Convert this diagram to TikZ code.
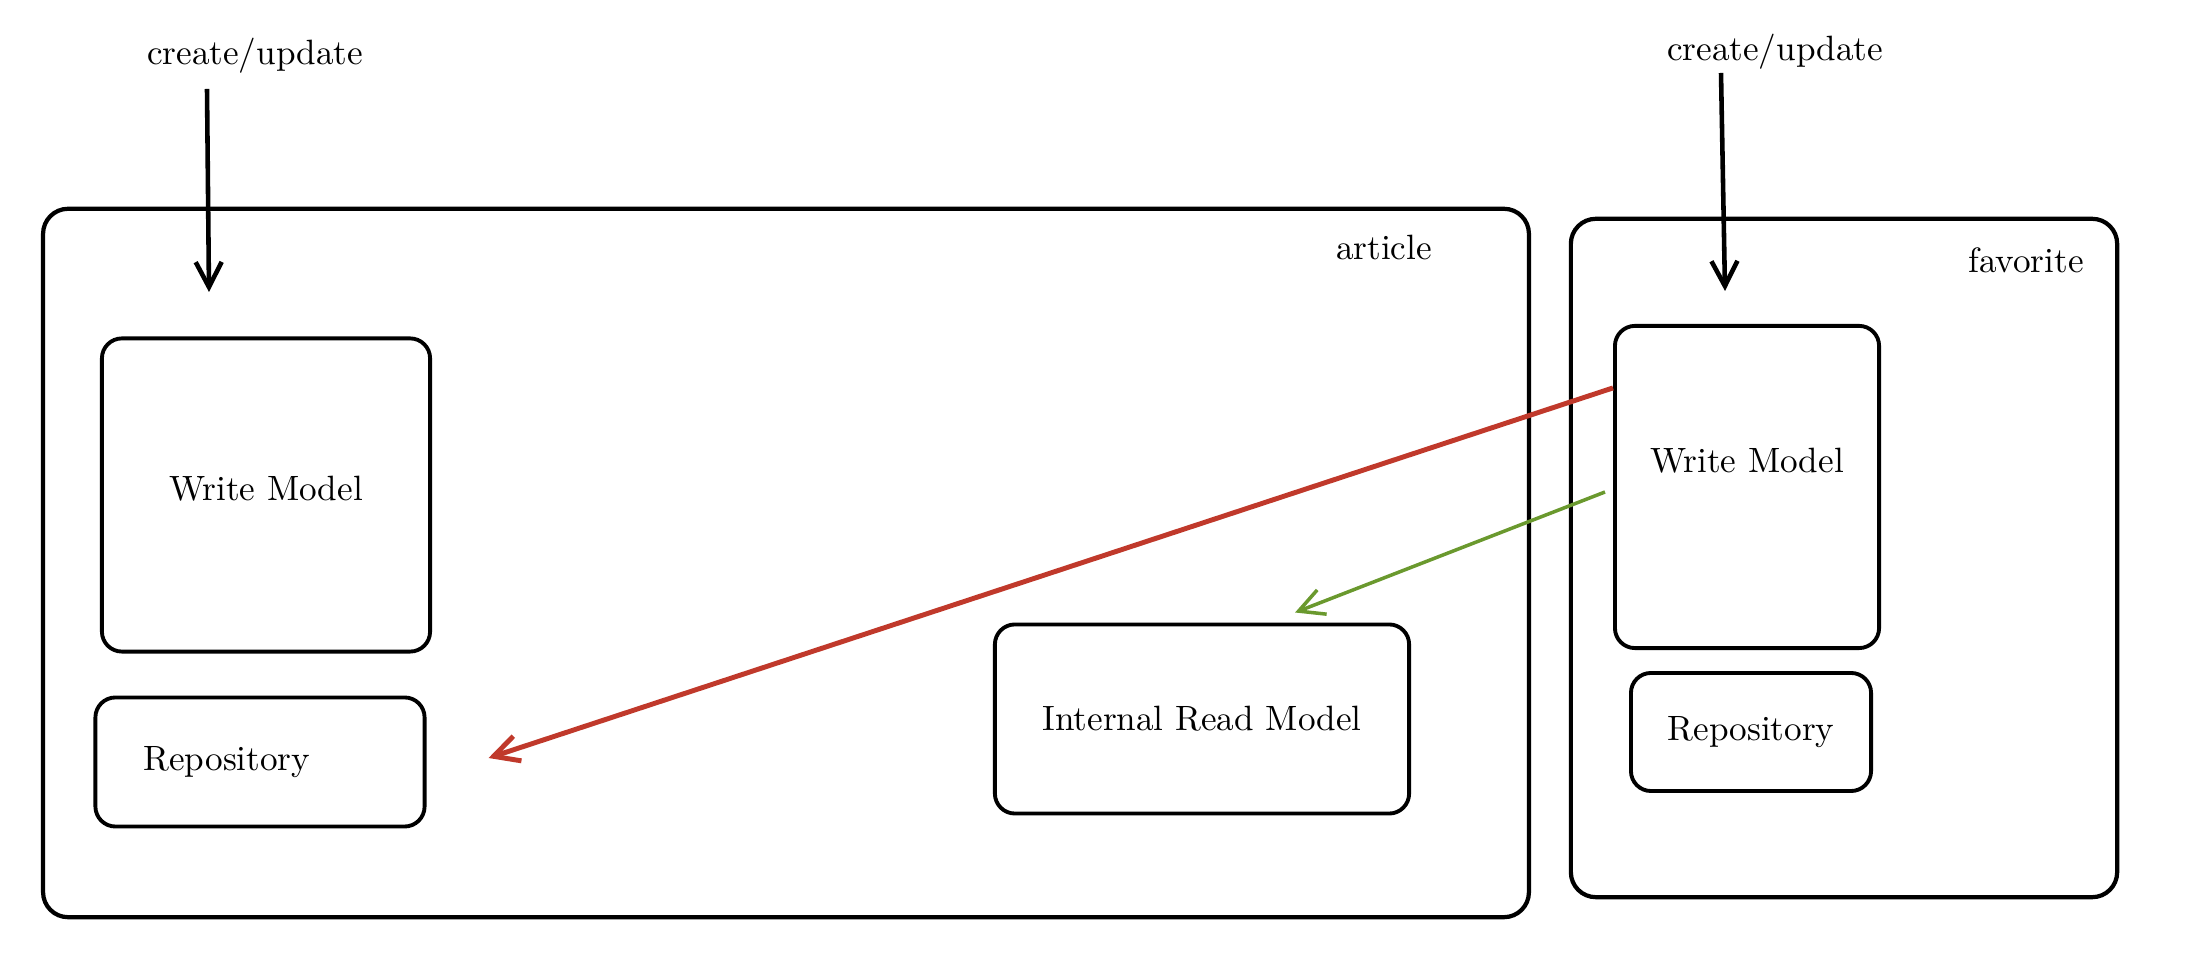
\documentclass[tikz,border=0pt]{standalone}
\usetikzlibrary{arrows.meta}
\definecolor{wred}{RGB}{192,57,43}
\definecolor{wgreen}{RGB}{106,153,46}
\tikzset{
    box/.style={draw, line width=1.1pt, rounded corners=2mm},
    ctx/.style={draw, line width=1.2pt, rounded corners=2.5mm}
}
\begin{document}
\begin{tikzpicture}[x=.01cm, y=-.01cm, >={Straight Barb[length=2.5mm,width=2.6mm]}]
\useasboundingbox (0,0) rectangle (2212,968);
\node[ctx, minimum width=14.85cm, minimum height=7.08cm](article) at (786,563){};
\node[ctx, minimum width=5.46cm, minimum height=6.78cm](favorite) at (1844,558){};
\node(artlbl) at (1384,248){article};
\node(favlbl) at (2026,260){favorite};
\node[box, minimum width=3.28cm, minimum height=3.13cm, label={[yshift=.06cm]center:Write Model}](awrite) at (266,495){};
\node[box, text width=2.33cm, inner xsep=.48cm, minimum height=1.29cm, align=left](arepo) at (260,762){Repository};
\node[box, minimum width=4.14cm, minimum height=1.89cm](aread) at (1202,719){Internal Read Model};
\node[box, minimum width=2.64cm, minimum height=3.22cm, label={[yshift=.26cm]center:Write Model}](fwrite) at (1747,487){};
\node[box, minimum width=2.40cm, minimum height=1.18cm](frepo) at (1751,732){Repository};
\node(acmd) at (255,56){create/update};
\node(fcmd) at (1775,52){create/update};
\coordinate(a1) at (207,89);
\coordinate(a2) at (209,292);
\coordinate(f1) at (1721,73);
\coordinate(f2) at (1725,291);
\draw[->, line width=1.3pt](a1)--(a2);
\draw[->, line width=1.3pt](f1)--(f2);
\coordinate(r1) at ([yshift=.99cm]fwrite.west);
\coordinate(r2) at ([xshift=.62cm, yshift=.04cm]arepo.east);
\coordinate(g1) at ([xshift=-.08cm, yshift=-.05cm]fwrite.west);
\coordinate(g2) at ([xshift=.93cm, yshift=.1cm]aread.north);
\draw[->, wred, line width=1.4pt](r1)--(r2);
\draw[->, wgreen, line width=1pt](g1)--(g2);
\end{tikzpicture}
\end{document}
